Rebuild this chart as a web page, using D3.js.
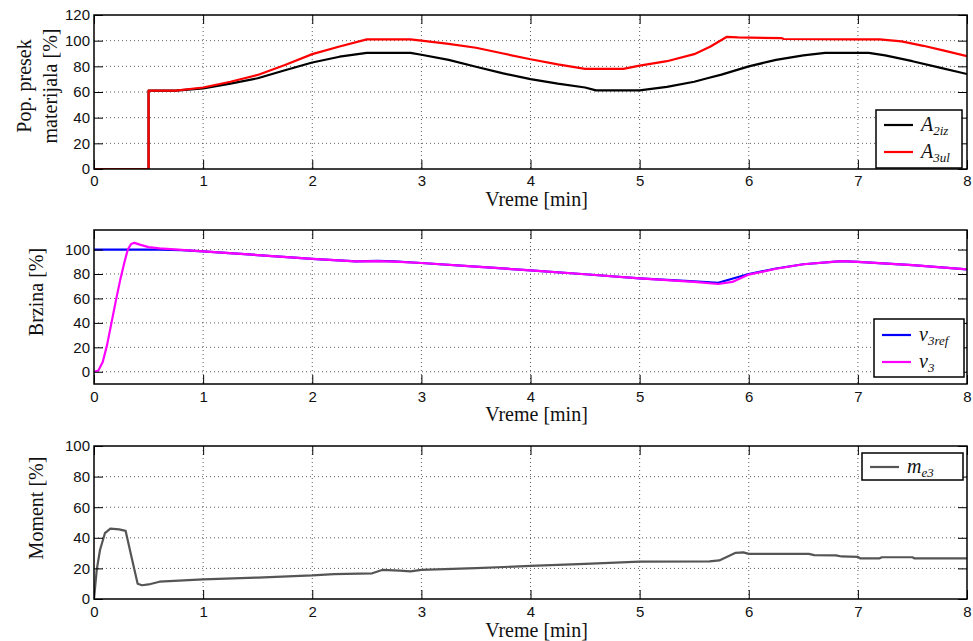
<!DOCTYPE html>
<html><head><meta charset="utf-8">
<script src="https://cdn.jsdelivr.net/npm/d3@7"></script>
<style>
body{margin:0;background:#fff;}
svg{display:block;}
.tick text{font-family:"Liberation Sans",Arial,sans-serif;font-size:15px;fill:#111;}
</style></head>
<body>
<script>
// ---------- data ----------
const timeTicks = [0,1,2,3,4,5,6,7,8];
const areaTicks = [0,20,40,60,80,100,120];
const speedTicks = [0,20,40,60,80,100];
const torqueTicks = [0,20,40,60,80,100];

const a2iz = [[0,0],[0.5,0],[0.5,61],[0.75,61],[1.0,62.8],[1.25,66.5],[1.5,70.7],[1.75,77],[2.0,83],[2.25,87.5],[2.5,90.5],[2.9,90.5],[3.0,89],[3.25,85],[3.5,79.7],[3.75,74.5],[4.0,70],[4.25,66.5],[4.5,63.5],[4.6,61.3],[5.0,61.3],[5.25,64],[5.5,68],[5.62,70.7],[5.75,73.5],[6.0,80],[6.25,85],[6.5,88.5],[6.7,90.5],[7.1,90.5],[7.25,88.5],[7.5,84],[7.75,79],[8.0,74]];
const a3ul = [[0,0],[0.5,0],[0.5,61],[0.75,61],[1.0,63.5],[1.25,68],[1.5,73.3],[1.75,81],[2.0,89.5],[2.25,95.5],[2.5,101],[2.9,101],[3.0,100],[3.25,97.5],[3.5,94.5],[3.75,90],[4.0,85.5],[4.25,81.5],[4.5,78],[4.85,78],[5.0,80.5],[5.25,84],[5.5,89.5],[5.65,95.5],[5.8,103],[5.9,102.5],[6.3,102],[6.32,101.3],[7.0,101],[7.2,101],[7.4,99.5],[7.6,96],[7.8,92],[8.0,88]];

const v3ref = [[0,100],[0.6,100],[0.8,99.5],[1.0,98.5],[1.5,95.5],[2.0,92.3],[2.4,90.3],[2.6,90.8],[2.75,90.3],[3.0,89],[3.5,86],[4.0,83],[4.5,79.8],[5.0,76.5],[5.5,74],[5.72,72.8],[6.0,80],[6.25,84.5],[6.5,88],[6.85,90.6],[7.0,90],[7.5,87.2],[8.0,83.8]];
const v3 = [[0,0],[0.04,1],[0.08,8],[0.12,22],[0.16,40],[0.2,58],[0.24,75],[0.28,90],[0.31,100],[0.34,104.5],[0.37,105.5],[0.42,104],[0.5,102],[0.6,101],[0.8,99.8],[1.0,98.5],[1.5,95.5],[2.0,92.3],[2.4,90.3],[2.6,90.6],[2.75,90.2],[3.0,89],[3.5,86],[4.0,83],[4.5,79.8],[5.0,76.5],[5.5,73.6],[5.72,71.8],[5.85,73.5],[6.0,79.5],[6.25,84.3],[6.5,88],[6.85,90.6],[7.0,90],[7.5,87.2],[8.0,83.8]];

const me3 = [[0,0],[0.025,19],[0.055,32],[0.1,43],[0.15,46],[0.23,45.5],[0.29,44.5],[0.35,25.5],[0.4,10],[0.44,9],[0.5,9.5],[0.6,11.3],[1.0,12.8],[1.5,14],[2.0,15.4],[2.2,16.3],[2.55,16.8],[2.64,19],[2.8,18.5],[2.9,18],[3.0,19],[3.5,20.2],[4.0,21.6],[4.5,23],[5.0,24.4],[5.64,24.6],[5.73,25.2],[5.88,30.2],[5.95,30.5],[6.0,29.5],[6.55,29.5],[6.6,28.7],[6.8,28.5],[6.85,27.8],[7.0,27.5],[7.02,26.6],[7.2,26.6],[7.22,27.3],[7.5,27.3],[7.52,26.5],[8.0,26.5]];

// ---------- drawing ----------
const SERIF = "'Liberation Serif','Times New Roman',serif";
const W = 973, H = 641;
const svg = d3.select("body").append("svg").attr("width", W).attr("height", H);
const L = 94, R = 967;
const x = d3.scaleLinear().domain([0,8]).range([L,R]);
const TL = 9;

function panel(cfg){
  const y = d3.scaleLinear().domain(cfg.ydom).range([cfg.bottom, cfg.top]);
  const g = svg.append("g");
  const id = "clip"+cfg.name;
  svg.append("clipPath").attr("id", id).append("rect")
    .attr("x", L).attr("y", cfg.top).attr("width", R-L).attr("height", cfg.bottom-cfg.top);
  // grid
  const grid = g.append("g").attr("stroke","#333").attr("stroke-width",0.8).attr("stroke-dasharray","1,3");
  timeTicks.filter(t=>t>0 && t<8).forEach(t=>{
    grid.append("line").attr("x1",x(t)).attr("x2",x(t)).attr("y1",cfg.top).attr("y2",cfg.bottom);
  });
  cfg.yticks.forEach(v=>{
    const yy = y(v);
    if (yy > cfg.top+1 && yy < cfg.bottom-1)
      grid.append("line").attr("x1",L).attr("x2",R).attr("y1",yy).attr("y2",yy);
  });
  // lines
  const line = d3.line().x(d=>x(d[0])).y(d=>y(d[1]));
  const lg = g.append("g").attr("clip-path","url(#"+id+")");
  cfg.series.forEach(s=>{
    lg.append("path").datum(s.data).attr("d", line).attr("fill","none")
      .attr("stroke", s.color).attr("stroke-width", 2.2).attr("stroke-linejoin","round");
  });
  // axes (ticks inward)
  const ax = d3.axisBottom(x).tickValues(timeTicks).tickSize(-TL).tickPadding(cfg.xpad).tickFormat(d3.format("d"));
  g.append("g").attr("transform",`translate(0,${cfg.bottom})`).call(ax)
    .call(a=>a.select(".domain").remove()).call(a=>a.selectAll("line").attr("stroke","#000"));
  g.append("g").attr("transform",`translate(0,${cfg.top})`).call(d3.axisTop(x).tickValues(timeTicks).tickSize(-TL).tickFormat(""))
    .call(a=>a.select(".domain").remove()).call(a=>a.selectAll("line").attr("stroke","#000"));
  g.append("g").attr("transform",`translate(${L},0)`).call(d3.axisLeft(y).tickValues(cfg.yticks).tickSize(-TL).tickPadding(4).tickFormat(d3.format("d")))
    .call(a=>a.select(".domain").remove()).call(a=>a.selectAll("line").attr("stroke","#000"));
  g.append("g").attr("transform",`translate(${R},0)`).call(d3.axisRight(y).tickValues(cfg.yticks).tickSize(-TL).tickFormat(""))
    .call(a=>a.select(".domain").remove()).call(a=>a.selectAll("line").attr("stroke","#000"));
  g.selectAll(".tick text").attr("fill","#111");
  g.append("rect").attr("x",L).attr("y",cfg.top).attr("width",R-L).attr("height",cfg.bottom-cfg.top)
    .attr("fill","none").attr("stroke","#000").attr("stroke-width",1.5);
  // x label
  g.append("text").attr("font-family",SERIF).attr("font-size",20).attr("fill","#111")
    .attr("x", (L+R)/2 + 6).attr("y", cfg.xlabY)
    .attr("text-anchor","middle").text("Vreme [min]");
  // y label
  const yl = g.append("text").attr("font-family",SERIF).attr("font-size",20).attr("fill","#111")
    .attr("text-anchor","middle")
    .attr("transform",`translate(${cfg.ylabX},${cfg.ylabY}) rotate(-90)`);
  cfg.ylabel.forEach((t,i)=>{
    yl.append("tspan").attr("x",0).attr("dy", i===0 ? 0 : 26).text(t);
  });
  // legend
  const lgd = cfg.legend;
  g.append("rect").attr("x",lgd.x).attr("y",lgd.y).attr("width",lgd.w).attr("height",lgd.h)
    .attr("fill","#fff").attr("stroke","#000").attr("stroke-width",1.5);
  cfg.series.forEach((s,i)=>{
    const yy = lgd.y + lgd.first + i*lgd.step;
    g.append("line").attr("x1",lgd.x+8).attr("x2",lgd.x+37).attr("y1",yy).attr("y2",yy)
      .attr("stroke",s.color).attr("stroke-width",2.2);
    const t = g.append("text").attr("font-family",SERIF).attr("font-style","italic").attr("fill","#111")
      .attr("x",lgd.x+45).attr("y",yy+6).attr("font-size",20);
    t.append("tspan").text(s.main);
    t.append("tspan").attr("font-size",13).attr("dy",4).text(s.sub);
  });
}

panel({name:"a", top:15, bottom:169, ydom:[0,120], yticks:areaTicks, xpad:6,
  series:[{data:a2iz,color:"#000",main:"A",sub:"2iz"},{data:a3ul,color:"#ff0000",main:"A",sub:"3ul"}],
  xlabY:206, ylabX:31, ylabY:86, ylabel:["Pop. presek","materijala [%]"],
  legend:{x:876,y:110,w:86,h:58,first:15,step:27}});

panel({name:"b", top:230, bottom:384, ydom:[-10,116], yticks:speedTicks, xpad:7,
  series:[{data:v3ref,color:"#0000ff",main:"v",sub:"3ref"},{data:v3,color:"#ff00ff",main:"v",sub:"3"}],
  xlabY:421, ylabX:43, ylabY:292, ylabel:["Brzina [%]"],
  legend:{x:874,y:319,w:90,h:58,first:16,step:27}});

panel({name:"c", top:446, bottom:599, ydom:[0,100], yticks:torqueTicks, xpad:7,
  series:[{data:me3,color:"#555555",main:"m",sub:"e3"}],
  xlabY:637, ylabX:43, ylabY:508, ylabel:["Moment [%]"],
  legend:{x:862,y:453,w:101,h:27,first:14,step:27}});
</script>
</body></html>
